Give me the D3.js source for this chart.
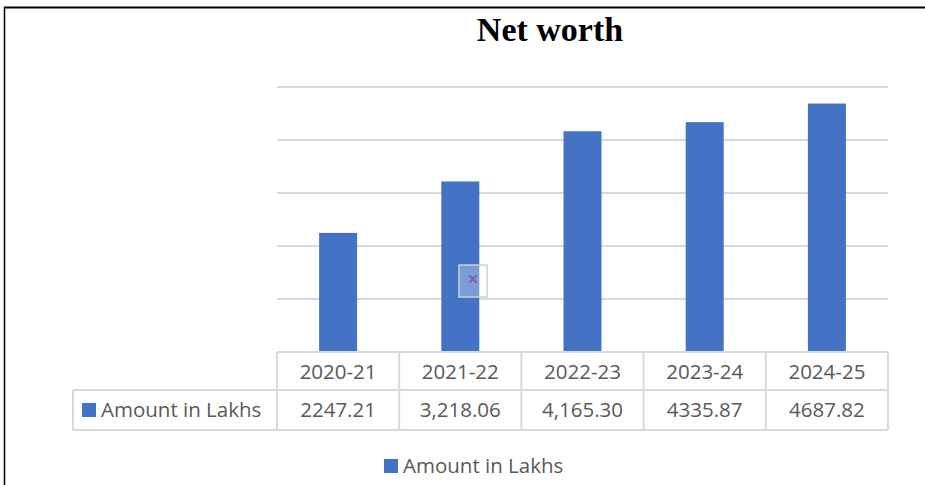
<!DOCTYPE html>
<html>
<head>
<meta charset="utf-8">
<script src="https://cdn.jsdelivr.net/npm/d3@7"></script>
<style>
  body { margin: 0; background: #fff; }
  svg { display: block; }
</style>
</head>
<body>
<div id="chart"></div>
<script>
var years = ['2020-21', '2021-22', '2022-23', '2023-24', '2024-25']
var amounts = [2247.21, 3218.06, 4165.30, 4335.87, 4687.82]
var amountLabels = ['2247.21', '3,218.06', '4,165.30', '4335.87', '4687.82']
var yTicks = [0, 1000, 2000, 3000, 4000, 5000]
var seriesName = 'Amount in Lakhs'

var width = 925, height = 485
var blue = '#4472c4', grid = '#d9d9d9', txt = '#595959'
var font = "'Open Sans', 'Noto Sans', sans-serif"
var fs = '20.5px'

var svg = d3.select('#chart').append('svg')
    .attr('width', width).attr('height', height)

// outer frame (top + left edge visible)
svg.append('line').attr('x1', 4).attr('x2', width).attr('y1', 7.5).attr('y2', 7.5)
    .style('stroke', '#000').style('stroke-width', 2)
svg.append('line').attr('x1', 4.5).attr('x2', 4.5).attr('y1', 7).attr('y2', height)
    .style('stroke', '#000').style('stroke-width', 1.5)

svg.append('text')
    .attr('x', 550).attr('y', 41)
    .attr('text-anchor', 'middle')
    .style('font-family', "'Liberation Serif', 'DejaVu Serif', serif")
    .style('font-weight', 'bold')
    .style('font-size', '34px')
    .style('fill', '#000')
    .text('Net worth')

var x = d3.scaleBand().domain(years).range([277, 888]).paddingInner(0).paddingOuter(0)
var y = d3.scaleLinear().domain([0, 5000]).range([352, 87])

// gridlines
svg.append('g').selectAll('line')
    .data(yTicks.slice(1))
    .enter().append('line')
    .attr('x1', 277).attr('x2', 888)
    .attr('y1', function(d) { return y(d) }).attr('y2', function(d) { return y(d) })
    .style('stroke', grid).style('stroke-width', 2)

// bars
var bw = 38
svg.append('g').selectAll('rect')
    .data(amounts)
    .enter().append('rect')
    .attr('x', function(d, i) { return x(years[i]) + x.bandwidth() / 2 - bw / 2 })
    .attr('y', function(d) { return y(d) })
    .attr('width', bw)
    .attr('height', function(d) { return y(0) - y(d) })
    .style('fill', blue)

// data table
var rowTop = 352, rowMid = 390, rowBot = 430, tableLeft = 73
var tg = svg.append('g').style('stroke', grid).style('stroke-width', 2)
tg.append('line').attr('x1', 277).attr('x2', 888).attr('y1', rowTop).attr('y2', rowTop)
tg.append('line').attr('x1', tableLeft).attr('x2', 888).attr('y1', rowMid).attr('y2', rowMid)
tg.append('line').attr('x1', tableLeft).attr('x2', 888).attr('y1', rowBot).attr('y2', rowBot)
tg.append('line').attr('x1', tableLeft).attr('x2', tableLeft).attr('y1', rowMid).attr('y2', rowBot)
var edges = years.map(function(d) { return x(d) }).concat([888])
tg.selectAll('.vl').data(edges).enter().append('line')
    .attr('x1', function(d) { return d }).attr('x2', function(d) { return d })
    .attr('y1', rowTop).attr('y2', rowBot)

svg.append('g').selectAll('text')
    .data(years)
    .enter().append('text')
    .attr('x', function(d) { return x(d) + x.bandwidth() / 2 })
    .attr('y', 379)
    .attr('text-anchor', 'middle')
    .style('font-family', font).style('font-size', fs).style('fill', txt)
    .text(function(d) { return d })

svg.append('g').selectAll('text')
    .data(amountLabels)
    .enter().append('text')
    .attr('x', function(d, i) { return x(years[i]) + x.bandwidth() / 2 })
    .attr('y', 417)
    .attr('text-anchor', 'middle')
    .style('font-family', font).style('font-size', fs).style('fill', txt)
    .text(function(d) { return d })

svg.append('rect').attr('x', 82).attr('y', 403).attr('width', 14).attr('height', 14).style('fill', blue)
svg.append('text').attr('x', 101).attr('y', 417)
    .style('font-family', font).style('font-size', fs).style('fill', txt)
    .text(seriesName)

// bottom legend
svg.append('rect').attr('x', 384).attr('y', 459).attr('width', 14).attr('height', 14).style('fill', blue)
svg.append('text').attr('x', 403).attr('y', 473)
    .style('font-family', font).style('font-size', fs).style('fill', txt)
    .text(seriesName)

// broken image placeholder sitting over the chart
var ph = svg.append('g').attr('transform', 'translate(459,265)')
ph.append('rect').attr('width', 28).attr('height', 32)
    .style('fill', '#fff').style('fill-opacity', 0.3)
    .style('stroke', '#cfcfcf').style('stroke-width', 1.5)
ph.append('text').attr('x', 14).attr('y', 21).attr('text-anchor', 'middle')
    .style('font-family', font).style('font-size', '20px').style('font-weight', 'bold')
    .style('fill', '#8064a2')
    .text('×')
</script>
</body>
</html>
